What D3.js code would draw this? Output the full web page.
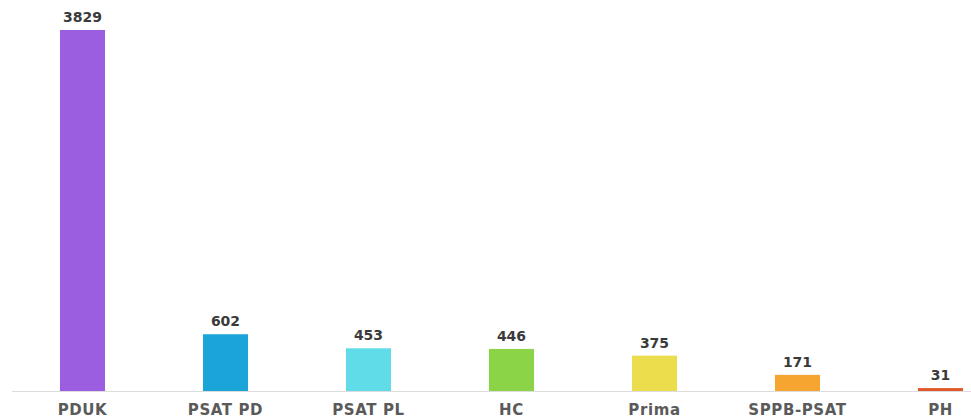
<!DOCTYPE html>
<html>
<head>
<meta charset="utf-8">
<script src="https://cdn.jsdelivr.net/npm/d3@7"></script>
<style>
  html, body { margin: 0; padding: 0; background: #fff; }
  svg { display: block; }
  .val { font-family: "DejaVu Sans", sans-serif; font-weight: bold; font-size: 14px; fill: #3a3a3a; }
  .cat { font-family: "DejaVu Sans", sans-serif; font-weight: bold; font-size: 15px; fill: #5a5a5a; letter-spacing: 0.6px; }
</style>
</head>
<body>
<svg id="chart" width="971" height="419"></svg>
<script>
// Programme totals
const categories = ["PDUK", "PSAT PD", "PSAT PL", "HC", "Prima", "SPPB-PSAT", "PH"];
const values = [3829, 602, 453, 446, 375, 171, 31];
const colors = ["#9b5ee0", "#1aa4d8", "#60dbe8", "#8bd448", "#ebdd4c", "#f6a531", "#e0582c"];

const svg = d3.select("#chart");
const baseY = 391;

const x = d3.scaleBand()
  .domain(categories)
  .range([11, 1012])
  .paddingInner(0.685)
  .paddingOuter(0.3425);

const y = d3.scaleLinear()
  .domain([0, d3.max(values)])
  .range([baseY, 30]);

const data = categories.map((c, i) => ({ cat: c, value: values[i], color: colors[i] }));

// baseline
svg.append("line")
  .attr("x1", 12).attr("x2", 971)
  .attr("y1", baseY + 0.5).attr("y2", baseY + 0.5)
  .attr("stroke", "#dcdcdc").attr("stroke-width", 1);

// bars
svg.selectAll("rect.bar")
  .data(data)
  .join("rect")
  .attr("class", "bar")
  .attr("x", d => x(d.cat))
  .attr("width", x.bandwidth())
  .attr("y", d => y(d.value))
  .attr("height", d => baseY - y(d.value))
  .attr("fill", d => d.color);

// value labels
svg.selectAll("text.val")
  .data(data)
  .join("text")
  .attr("class", "val")
  .attr("x", d => x(d.cat) + x.bandwidth() / 2)
  .attr("y", d => y(d.value) - 8)
  .attr("text-anchor", "middle")
  .text(d => d.value);

// category labels
svg.selectAll("text.cat")
  .data(data)
  .join("text")
  .attr("class", "cat")
  .attr("x", d => x(d.cat) + x.bandwidth() / 2)
  .attr("y", 415)
  .attr("text-anchor", "middle")
  .text(d => d.cat);
</script>
</body>
</html>
